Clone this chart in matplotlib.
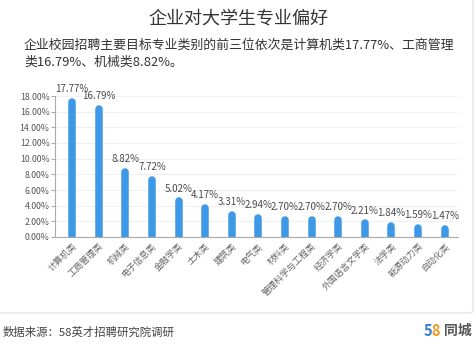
import matplotlib
matplotlib.use("Agg")
import matplotlib.pyplot as plt
from matplotlib.patches import FancyBboxPatch

plt.rcParams['font.family'] = ['Noto Sans CJK SC', 'DejaVu Sans']

title = "企业对大学生专业偏好"
subtitle = ["企业校园招聘主要目标专业类别的前三位依次是计算机类17.77%、工商管理",
            "类16.79%、机械类8.82%。"]
source = "数据来源：58英才招聘研究院调研"

categories = ["计算机类", "工商管理类", "机械类", "电子信息类", "金融学类", "土木类",
              "建筑类", "电气类", "材料类", "管理科学与工程类", "经济学类",
              "外国语言文学类", "法学类", "能源动力类", "自动化类"]
values = [17.77, 16.79, 8.82, 7.72, 5.02, 4.17, 3.31, 2.94, 2.70, 2.70, 2.70,
          2.21, 1.84, 1.59, 1.47]
yticks = [0, 2, 4, 6, 8, 10, 12, 14, 16, 18]

W, H, DPI = 477, 347, 100
fig = plt.figure(figsize=(W / DPI, H / DPI), dpi=DPI)
fig.patch.set_facecolor("white")

# card outline behind the chart
card = FancyBboxPatch((-0.05, 34 / H), (473 / W) + 0.05, 1.2,
                      boxstyle="round,pad=0,rounding_size=0.008",
                      transform=fig.transFigure, facecolor="white",
                      edgecolor="#e4e4e4", linewidth=1.0, zorder=-5)
fig.patches.append(card)

ax = fig.add_axes([55 / W, (H - 237) / H, (458 - 55) / W, (237 - 96) / H])
ax.set_facecolor("none")
ymin, ymax = 0, 18
ax.set_ylim(ymin, ymax)
ax.set_xlim(-0.64, 14.5)

bar_color = "#3d98e6"
lw_px = 7.5
lw_pt = lw_px * 72 / DPI
px_per_unit = ax.get_position().height * H / (ymax - ymin)
cap = (lw_px / 2) / px_per_unit

x = list(range(len(categories)))
for xi, v in zip(x, values):
    ax.vlines(xi, -1, v - cap, colors=bar_color, linewidth=lw_pt,
              capstyle="round", zorder=3)
    ax.annotate(f"{v:.2f}%", (xi, v), xytext=(0, 3), textcoords="offset points",
                ha="center", va="bottom", fontsize=7, color="#4a4a4a",
                annotation_clip=False)

ax.set_yticks(yticks)
ax.set_yticklabels([f"{t:.2f}%" for t in yticks], fontsize=6.3, color="#555555")
ax.set_xticks(x)
ax.set_xticklabels(categories, rotation=45, ha="right", rotation_mode="anchor",
                   fontsize=6.4, color="#666666")
ax.tick_params(axis="x", length=0, pad=3)
ax.tick_params(axis="y", length=3, width=0.6, color="#999999", pad=1)
ax.grid(axis="y", color="#f0f0f0", linewidth=0.8, zorder=0)
for s in ["top", "right"]:
    ax.spines[s].set_visible(False)
for s in ["left", "bottom"]:
    ax.spines[s].set_color("#aaaaaa")
    ax.spines[s].set_linewidth(0.8)

fig.text(238 / W, 1 - 18 / H, title, ha="center", va="center",
         fontsize=13, color="#333333")
fig.text(24 / W, 1 - 45 / H, subtitle[0], ha="left", va="center",
         fontsize=9.3, color="#333333")
fig.text(24 / W, 1 - 62 / H, subtitle[1], ha="left", va="center",
         fontsize=9.3, color="#333333")
fig.text(3 / W, 1 - 332 / H, source, ha="left", va="center",
         fontsize=8.2, color="#444444")

# brand mark
fig.text(424 / W, 1 - 331 / H, "5", ha="left", va="center", fontsize=10.5,
         fontweight="bold", color="#2f7fd6")
fig.text(431.5 / W, 1 - 331 / H, "8", ha="left", va="center", fontsize=10.5,
         fontweight="bold", color="#f29a1f")
fig.text(472 / W, 1 - 331 / H, "同城", ha="right", va="center", fontsize=10,
         fontweight="bold", color="#555555")

fig.savefig("out.png", dpi=DPI, facecolor="white")
